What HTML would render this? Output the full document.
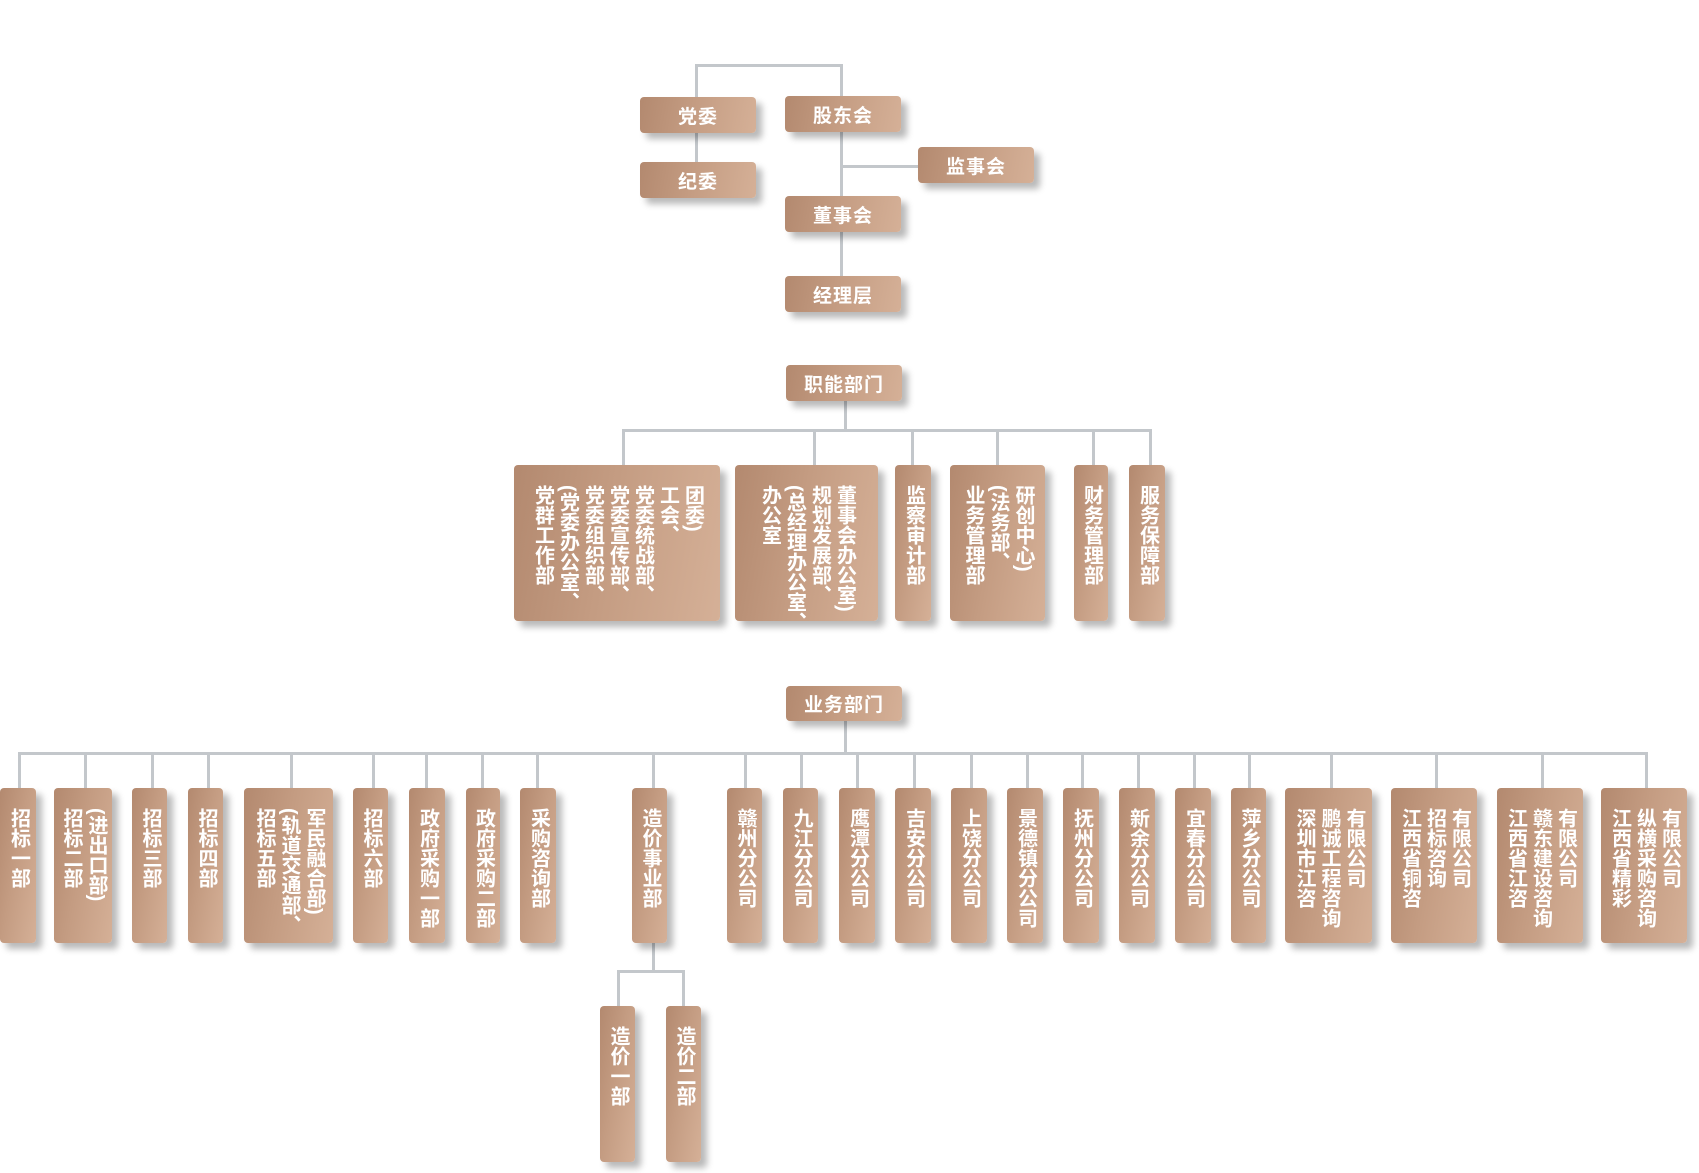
<!DOCTYPE html>
<html><head><meta charset="utf-8"><style>
body{margin:0;width:1699px;height:1173px;background:#fff;position:relative;overflow:hidden;font-family:"Liberation Sans","Noto Sans CJK SC",sans-serif;}
.b{position:absolute;border-radius:4px;background:linear-gradient(100deg,#b3896f 0%,#c49c82 45%,#d5b097 100%);box-shadow:6px 6px 7px rgba(0,0,0,0.28);color:#fff;font-weight:bold;}
.h{display:flex;align-items:center;justify-content:center;font-size:19px;letter-spacing:1px;}
.v{display:flex;justify-content:center;align-items:flex-start;box-sizing:border-box;padding-top:20px;}
.v span{writing-mode:vertical-lr;font-size:20px;line-height:25px;letter-spacing:0px;white-space:nowrap;}
.l{position:absolute;background:#c3c7cb;}
</style></head><body>
<div class="l" style="left:695px;top:64px;width:148px;height:3px"></div>
<div class="l" style="left:695px;top:64px;width:3px;height:100px"></div>
<div class="l" style="left:840px;top:64px;width:3px;height:232px"></div>
<div class="l" style="left:840px;top:165px;width:80px;height:3px"></div>
<div class="l" style="left:840px;top:230px;width:3px;height:48px"></div>
<div class="b h" style="left:640px;top:97px;width:116px;height:36px">党委</div>
<div class="b h" style="left:785px;top:96px;width:116px;height:36px">股东会</div>
<div class="b h" style="left:918px;top:147px;width:116px;height:36px">监事会</div>
<div class="b h" style="left:640px;top:162px;width:116px;height:36px">纪委</div>
<div class="b h" style="left:785px;top:196px;width:116px;height:36px">董事会</div>
<div class="b h" style="left:785px;top:276px;width:116px;height:36px">经理层</div>
<div class="l" style="left:844px;top:400px;width:3px;height:32px"></div>
<div class="l" style="left:622px;top:429px;width:530px;height:3px"></div>
<div class="l" style="left:622px;top:429px;width:3px;height:38px"></div>
<div class="l" style="left:813px;top:429px;width:3px;height:38px"></div>
<div class="l" style="left:911px;top:429px;width:3px;height:38px"></div>
<div class="l" style="left:996px;top:429px;width:3px;height:38px"></div>
<div class="l" style="left:1092px;top:429px;width:3px;height:38px"></div>
<div class="l" style="left:1149px;top:429px;width:3px;height:38px"></div>
<div class="b h" style="left:786px;top:365px;width:116px;height:36px">职能部门</div>
<div class="b v" style="left:514px;top:465px;width:206px;height:156px"><span>党群工作部<br>(党委办公室、<br>党委组织部、<br>党委宣传部、<br>党委统战部、<br>工会、<br>团委)</span></div>
<div class="b v" style="left:735px;top:465px;width:143px;height:156px"><span>办公室<br>(总经理办公室、<br>规划发展部、<br>董事会办公室)</span></div>
<div class="b v" style="left:895px;top:465px;width:36px;height:156px"><span>监察审计部</span></div>
<div class="b v" style="left:950px;top:465px;width:95px;height:156px"><span>业务管理部<br>(法务部、<br>研创中心)</span></div>
<div class="b v" style="left:1074px;top:465px;width:34px;height:156px"><span>财务管理部</span></div>
<div class="b v" style="left:1129px;top:465px;width:36px;height:156px"><span>服务保障部</span></div>
<div class="l" style="left:844px;top:720px;width:3px;height:34px"></div>
<div class="l" style="left:18px;top:752px;width:1630px;height:3px"></div>
<div id="drops"></div>
<div class="b h" style="left:786px;top:686px;width:116px;height:35px">业务部门</div>
<div class="l" style="left:652px;top:943px;width:3px;height:28px"></div>
<div class="l" style="left:617px;top:970px;width:68px;height:3px"></div>
<div class="l" style="left:617px;top:970px;width:3px;height:38px"></div>
<div class="l" style="left:682px;top:970px;width:3px;height:38px"></div>
<div class="b v" style="left:600px;top:1006px;width:35px;height:156px"><span>造价一部</span></div>
<div class="b v" style="left:666px;top:1006px;width:35px;height:156px"><span>造价二部</span></div>
<script>
var d=[19,85,152,208,291,373,426,482,537,653,745,801,857,914,971,1027,1082,1138,1194,1249,1331,1436,1542,1646];
var s='';d.forEach(function(x){s+='<div class="l" style="left:'+(x-1)+'px;top:752px;width:3px;height:38px"></div>';});
document.getElementById('drops').innerHTML=s;
</script>
<div class="b v" style="left:0px;top:788px;width:36px;height:155px"><span>招标一部</span></div>
<div class="b v" style="left:54px;top:788px;width:58px;height:155px"><span>招标二部<br>(进出口部)</span></div>
<div class="b v" style="left:132px;top:788px;width:35px;height:155px"><span>招标三部</span></div>
<div class="b v" style="left:188px;top:788px;width:35px;height:155px"><span>招标四部</span></div>
<div class="b v" style="left:244px;top:788px;width:89px;height:155px"><span>招标五部<br>(轨道交通部、<br>军民融合部)</span></div>
<div class="b v" style="left:353px;top:788px;width:35px;height:155px"><span>招标六部</span></div>
<div class="b v" style="left:409px;top:788px;width:36px;height:155px"><span>政府采购一部</span></div>
<div class="b v" style="left:466px;top:788px;width:34px;height:155px"><span>政府采购二部</span></div>
<div class="b v" style="left:520px;top:788px;width:36px;height:155px"><span>采购咨询部</span></div>
<div class="b v" style="left:632px;top:788px;width:35px;height:155px"><span>造价事业部</span></div>
<div class="b v" style="left:727px;top:788px;width:35px;height:155px"><span>赣州分公司</span></div>
<div class="b v" style="left:783px;top:788px;width:35px;height:155px"><span>九江分公司</span></div>
<div class="b v" style="left:839px;top:788px;width:36px;height:155px"><span>鹰潭分公司</span></div>
<div class="b v" style="left:895px;top:788px;width:36px;height:155px"><span>吉安分公司</span></div>
<div class="b v" style="left:951px;top:788px;width:36px;height:155px"><span>上饶分公司</span></div>
<div class="b v" style="left:1007px;top:788px;width:36px;height:155px"><span>景德镇分公司</span></div>
<div class="b v" style="left:1063px;top:788px;width:36px;height:155px"><span>抚州分公司</span></div>
<div class="b v" style="left:1119px;top:788px;width:36px;height:155px"><span>新余分公司</span></div>
<div class="b v" style="left:1175px;top:788px;width:36px;height:155px"><span>宜春分公司</span></div>
<div class="b v" style="left:1231px;top:788px;width:35px;height:155px"><span>萍乡分公司</span></div>
<div class="b v" style="left:1285px;top:788px;width:87px;height:155px"><span>深圳市江咨<br>鹏诚工程咨询<br>有限公司</span></div>
<div class="b v" style="left:1391px;top:788px;width:86px;height:155px"><span>江西省铜咨<br>招标咨询<br>有限公司</span></div>
<div class="b v" style="left:1497px;top:788px;width:86px;height:155px"><span>江西省江咨<br>赣东建设咨询<br>有限公司</span></div>
<div class="b v" style="left:1601px;top:788px;width:86px;height:155px"><span>江西省精彩<br>纵横采购咨询<br>有限公司</span></div>
</body></html>
